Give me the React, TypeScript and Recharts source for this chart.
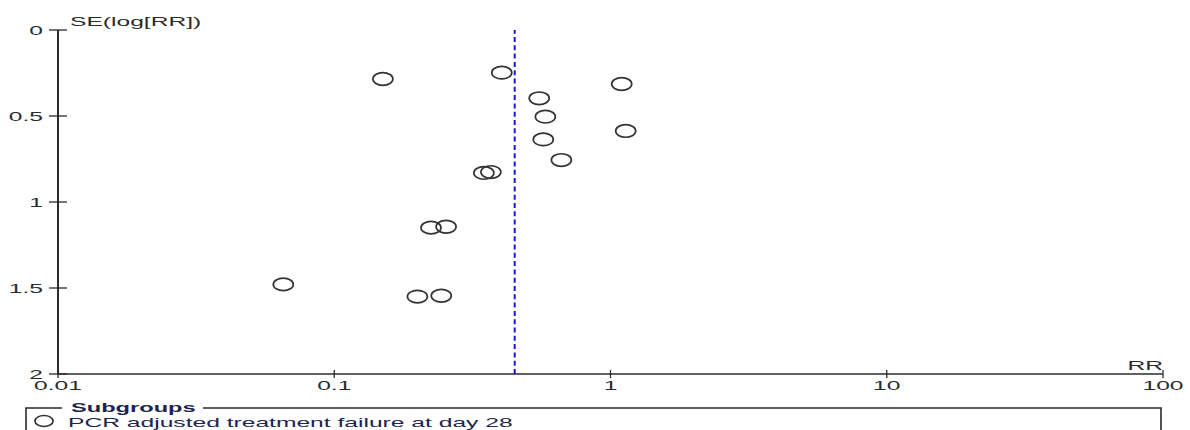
import React from "react";
import { ScatterChart, Scatter, XAxis, YAxis, ReferenceLine } from "recharts";

// Funnel plot: risk ratio (log scale) against its standard error
const SERIES_NAME = "PCR adjusted treatment failure at day 28";
const LEGEND_TITLE = "Subgroups";
const X_LABEL = "RR";
const Y_LABEL = "SE(log[RR])";

const rrValues = [0.15, 0.404, 1.098, 0.552, 0.581, 1.135, 0.571, 0.664, 0.348, 0.369, 0.224, 0.254, 0.0654, 0.2, 0.244];
const seValues = [0.285, 0.248, 0.314, 0.397, 0.504, 0.587, 0.636, 0.756, 0.831, 0.826, 1.149, 1.144, 1.479, 1.55, 1.545];

const pooledRR = 0.45;

const xTicks = [0.01, 0.1, 1, 10, 100];
const xTickLabels = ["0.01", "0.1", "1", "10", "100"];
const yTicks = [0, 0.5, 1, 1.5, 2];
const yTickLabels = ["0", "0.5", "1", "1.5", "2"];

const points = rrValues.map((rr, i) => ({ rr, se: seValues[i] }));

const FONT = "'Liberation Sans', Arial, sans-serif";
const SX = 1.97; // wide, horizontally stretched lettering
const INK = "#2b2b2b";
const LEGEND_INK = "#1d2450";

type TxtProps = {
  x: number;
  y: number;
  anchor?: "start" | "middle" | "end";
  bold?: boolean;
  color?: string;
  size?: number;
  children: React.ReactNode;
};

const Txt = ({ x, y, anchor = "start", bold, color = INK, size = 12.5, children }: TxtProps) => (
  <text
    transform={`translate(${x},${y}) scale(${SX},1)`}
    textAnchor={anchor}
    fontFamily={FONT}
    fontSize={size}
    fontWeight={bold ? "bold" : "normal"}
    fill={color}
  >
    {children}
  </text>
);

const XTick = (props: any) => {
  const { x, y, payload } = props;
  const idx = xTicks.indexOf(payload.value);
  return (
    <g>
      <line x1={x} x2={x} y1={y - 4} y2={y + 4} stroke={INK} strokeWidth={1.3} />
      <Txt x={x} y={y + 16} anchor="middle">
        {idx >= 0 ? xTickLabels[idx] : String(payload.value)}
      </Txt>
    </g>
  );
};

const YTick = (props: any) => {
  const { x, y, payload } = props;
  const idx = yTicks.indexOf(payload.value);
  return (
    <g>
      <line x1={x - 9} x2={x + 9} y1={y} y2={y} stroke={INK} strokeWidth={1.3} />
      <Txt x={x - 15} y={y + 4.5} anchor="end">
        {idx >= 0 ? yTickLabels[idx] : String(payload.value)}
      </Txt>
    </g>
  );
};

const StudyMarker = (props: any) => {
  const { cx, cy } = props;
  if (cx == null || cy == null) return null;
  return <ellipse cx={cx} cy={cy} rx={10} ry={6.3} fill="none" stroke="#333" strokeWidth={1.7} />;
};

const YLabel = (props: any) => {
  const vb = props.viewBox || {};
  return (
    <Txt x={vb.x + vb.width + 12} y={vb.y - 4}>
      {Y_LABEL}
    </Txt>
  );
};

const XLabel = (props: any) => {
  const vb = props.viewBox || {};
  return (
    <Txt x={vb.x + vb.width} y={vb.y - 4} anchor="end">
      {X_LABEL}
    </Txt>
  );
};

const LegendBox = () => (
  <svg
    width={1190}
    height={430}
    style={{ position: "absolute", left: 0, top: 0, pointerEvents: "none" }}
  >
    <path d="M 62 408 H 26 V 432" fill="none" stroke={INK} strokeWidth={1.6} />
    <path d="M 203 408 H 1161 V 432" fill="none" stroke={INK} strokeWidth={1.6} />
    <Txt x={71} y={412} bold size={12} color={LEGEND_INK}>
      {LEGEND_TITLE}
    </Txt>
    <ellipse cx={44} cy={421} rx={9} ry={5.5} fill="none" stroke="#333" strokeWidth={1.7} />
    <Txt x={68} y={426.5} color={LEGEND_INK}>
      {SERIES_NAME}
    </Txt>
  </svg>
);

export default function App() {
  return (
    <div style={{ position: "absolute", left: 0, top: 0, width: 1190, height: 430, background: "#fff" }}>
      <ScatterChart
        width={1190}
        height={430}
        margin={{ top: 30, right: 27, bottom: 36, left: 8 }}
      >
        <XAxis
          type="number"
          dataKey="rr"
          scale="log"
          domain={[0.01, 100]}
          ticks={xTicks}
          interval={0}
          allowDataOverflow
          height={20}
          tickSize={0}
          tickMargin={0}
          tickLine={false}
          axisLine={{ stroke: INK, strokeWidth: 1.3 }}
          tick={<XTick />}
          label={{ content: <XLabel /> }}
        />
        <YAxis
          type="number"
          dataKey="se"
          domain={[0, 2]}
          reversed
          ticks={yTicks}
          interval={0}
          allowDataOverflow
          width={50}
          tickSize={0}
          tickMargin={0}
          tickLine={false}
          axisLine={{ stroke: INK, strokeWidth: 2 }}
          tick={<YTick />}
          label={{ content: <YLabel /> }}
        />
        <ReferenceLine
          x={pooledRR}
          stroke="#1414e6"
          strokeWidth={2}
          strokeDasharray="5 3.3"
        />
        <Scatter
          name={SERIES_NAME}
          data={points}
          shape={<StudyMarker />}
          isAnimationActive={false}
        />
      </ScatterChart>
      <LegendBox />
    </div>
  );
}
